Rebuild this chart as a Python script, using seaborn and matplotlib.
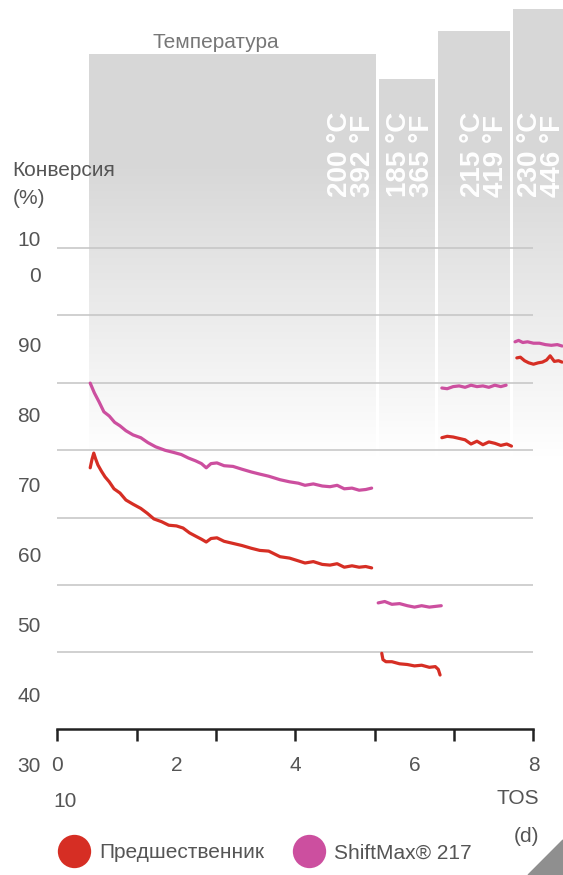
import numpy as np
import pandas as pd
import seaborn as sns
import matplotlib.pyplot as plt
from matplotlib.lines import Line2D
from matplotlib.patches import Rectangle, Polygon

sns.set_style("white")
plt.rcParams["font.family"] = ["Liberation Sans", "DejaVu Sans"]

# --- data: conversion (%) vs TOS (d), one list per temperature step ---
pre_x_200 = [0.55, 0.58, 0.61, 0.64, 0.68, 0.74, 0.80, 0.87, 0.95, 1.05, 1.15, 1.27, 1.40, 1.51, 1.62,
             1.75, 1.87, 2.00, 2.11, 2.22, 2.33, 2.42, 2.50, 2.58, 2.68, 2.80, 2.95, 3.10, 3.26, 3.40,
             3.55, 3.74, 3.90, 4.05, 4.16, 4.30, 4.45, 4.58, 4.70, 4.82, 4.95, 5.07, 5.18, 5.28]
pre_y_200 = [72.6, 73.8, 74.7, 73.9, 73.0, 72.1, 71.3, 70.6, 69.6, 69.0, 68.0, 67.4, 66.8, 66.1, 65.3,
             64.9, 64.4, 64.3, 64.0, 63.3, 62.8, 62.4, 62.0, 62.5, 62.6, 62.1, 61.8, 61.5, 61.1, 60.8,
             60.7, 59.9, 59.7, 59.3, 59.0, 59.2, 58.8, 58.7, 58.9, 58.4, 58.6, 58.4, 58.5, 58.3]
sm_x_200 = [0.55, 0.62, 0.70, 0.78, 0.87, 0.96, 1.05, 1.15, 1.27, 1.40, 1.52, 1.65, 1.81, 1.95, 2.08,
            2.20, 2.32, 2.42, 2.50, 2.58, 2.68, 2.80, 2.95, 3.10, 3.26, 3.40, 3.55, 3.74, 3.90, 4.05,
            4.16, 4.30, 4.45, 4.58, 4.70, 4.82, 4.95, 5.07, 5.18, 5.28]
sm_y_200 = [84.7, 83.3, 82.0, 80.6, 80.0, 79.1, 78.6, 77.9, 77.3, 76.9, 76.2, 75.6, 75.1, 74.8, 74.5,
            74.0, 73.6, 73.2, 72.6, 73.2, 73.3, 72.9, 72.8, 72.4, 72.0, 71.7, 71.4, 70.9, 70.6, 70.4,
            70.1, 70.3, 70.0, 69.9, 70.1, 69.6, 69.7, 69.4, 69.5, 69.7]

pre_x_185 = [5.45, 5.47, 5.52, 5.62, 5.75, 5.88, 6.00, 6.12, 6.25, 6.35, 6.40, 6.43]
pre_y_185 = [46.1, 45.2, 44.9, 44.9, 44.6, 44.5, 44.3, 44.4, 44.1, 44.2, 43.8, 43.0]
sm_x_185 = [5.39, 5.50, 5.62, 5.75, 5.88, 6.00, 6.12, 6.25, 6.35, 6.45]
sm_y_185 = [53.3, 53.5, 53.1, 53.2, 52.9, 52.7, 52.9, 52.7, 52.8, 52.9]

pre_x_215 = [6.46, 6.55, 6.65, 6.75, 6.85, 6.95, 7.05, 7.15, 7.25, 7.35, 7.45, 7.55, 7.63]
pre_y_215 = [76.9, 77.1, 77.0, 76.8, 76.6, 76.0, 76.4, 75.9, 76.3, 76.1, 75.8, 76.0, 75.7]
sm_x_215 = [6.46, 6.55, 6.65, 6.75, 6.85, 6.95, 7.05, 7.15, 7.25, 7.35, 7.45, 7.54]
sm_y_215 = [84.0, 83.9, 84.2, 84.3, 84.1, 84.4, 84.2, 84.3, 84.1, 84.4, 84.2, 84.4]

pre_x_230 = [7.72, 7.78, 7.85, 7.92, 8.00, 8.08, 8.15, 8.22, 8.28, 8.35, 8.42, 8.48]
pre_y_230 = [88.3, 88.4, 87.9, 87.6, 87.4, 87.6, 87.7, 88.0, 88.6, 87.8, 87.9, 87.7]
sm_x_230 = [7.69, 7.75, 7.82, 7.90, 8.00, 8.10, 8.20, 8.30, 8.40, 8.48]
sm_y_230 = [90.6, 90.8, 90.5, 90.6, 90.4, 90.4, 90.2, 90.1, 90.2, 90.0]

series_names = ["Предшественник", "ShiftMax® 217"]
colors = ["#d62e24", "#cc4f9f"]

# temperature steps (bars in the background)
temp_c = [200, 185, 215, 230]
temp_f = [392, 365, 419, 446]
temp_start = [0.53, 5.40, 6.39, 7.65]
temp_end = [5.35, 6.34, 7.59, 8.55]
temp_top = [131.6, 128.1, 134.9, 138.1]

ytick_vals = [90, 80, 70, 60, 50, 40, 30]
xtick_labels = [0, 2, 4, 6, 8]
grid_levels = [104.0, 94.4, 84.7, 75.1, 65.4, 55.9, 46.3]

# long-form table for seaborn
rows = []
segs = [("200", pre_x_200, pre_y_200, sm_x_200, sm_y_200),
        ("185", pre_x_185, pre_y_185, sm_x_185, sm_y_185),
        ("215", pre_x_215, pre_y_215, sm_x_215, sm_y_215),
        ("230", pre_x_230, pre_y_230, sm_x_230, sm_y_230)]
for seg, px, py, sx, sy in segs:
    for a, b in zip(px, py):
        rows.append((series_names[0], seg, a, b))
    for a, b in zip(sx, sy):
        rows.append((series_names[1], seg, a, b))
df = pd.DataFrame(rows, columns=["series", "seg", "tos", "conv"])

fig = plt.figure(figsize=(5.63, 8.75), dpi=100)
ax = fig.add_axes([0, 0, 1, 1])
ax.patch.set_alpha(0)

txtc = "#555555"

# gradient bars
for c, f, x0, x1, top in zip(temp_c, temp_f, temp_start, temp_end, temp_top):
    v = np.linspace(top, 74, 300)
    alpha = np.clip((v - 74) / (116 - 74), 0, 1)
    img = np.zeros((300, 1, 4))
    img[..., :3] = 0.845
    img[:, 0, 3] = alpha
    ax.imshow(img, extent=[x0, x1, 74, top], origin="upper", aspect="auto",
              interpolation="bilinear", zorder=1)
    t = ax.text(x1, 111.3, f"{c} °C\n{f} °F", rotation=90, ha="right", va="bottom",
                multialignment="left", color="white", fontsize=20, fontweight="bold",
                linespacing=0.85, zorder=1.5)
    t.set_clip_path(Rectangle((x0, 74), x1 - x0, top - 74, transform=ax.transData))

ax.hlines(grid_levels, 0, 8, color="#c4c4c4", lw=1.1, zorder=2)

sns.lineplot(data=df, x="tos", y="conv", hue="series", units="seg", estimator=None,
             palette=colors, hue_order=series_names, lw=2.3, legend=False, sort=False,
             ax=ax, zorder=3)

ax.set_xlim(-0.966, 8.496)
ax.set_ylim(14.43, 139.43)
ax.set_xlabel("")
ax.set_ylabel("")

for s in ["top", "left", "right"]:
    ax.spines[s].set_visible(False)
ax.spines["bottom"].set_position(("data", 35.3))
ax.spines["bottom"].set_bounds(0, 8)
ax.spines["bottom"].set_linewidth(1.8)
ax.spines["bottom"].set_color("#222222")
ax.set_xticks(np.linspace(0, 8, 7))
ax.tick_params(axis="x", bottom=True, direction="out", length=8.6, width=1.8,
               color="#222222", labelbottom=False)
ax.set_yticks([])

# axis texts
for v in ytick_vals:
    ax.text(-0.277, v, str(v), ha="right", va="center", fontsize=15, color=txtc)
ax.text(-0.277, 105.1, "10", ha="right", va="center", fontsize=15, color=txtc)
ax.text(-0.277, 100.0, "0", ha="right", va="center", fontsize=15, color=txtc)
for v in xtick_labels:
    ax.text(v, 30.1, str(v), ha="center", va="center", fontsize=15, color=txtc)
ax.text(-0.076, 24.9, "10", ha="left", va="center", fontsize=15, color=txtc)
ax.text(8.09, 25.3, "TOS", ha="right", va="center", fontsize=15, color=txtc)
ax.text(8.09, 19.9, "(d)", ha="right", va="center", fontsize=15, color=txtc)
ax.text(-0.755, 115.1, "Конверсия", ha="left", va="center", fontsize=15, color=txtc)
ax.text(-0.755, 111.1, "(%)", ha="left", va="center", fontsize=15, color=txtc)
ax.text(2.66, 133.4, "Температура", ha="center", va="center", fontsize=15, color="#777777")

handles = [Line2D([], [], ls="", marker="o", markersize=24, color=c, markeredgewidth=0)
           for c in colors]
ax.legend(handles, series_names, loc="center left", bbox_to_anchor=(0.0, 17.6),
          bbox_transform=ax.transData, ncol=2, frameon=False, borderpad=0,
          borderaxespad=0, handlelength=1.6, handletextpad=0.4, columnspacing=1.35,
          fontsize=15, labelcolor=txtc)

fig.patches.append(Polygon([(0.938, 0), (1, 0.04), (1, 0)], closed=True,
                           transform=fig.transFigure, color="#8f8f8f"))

fig.savefig("out.png", dpi=100)
